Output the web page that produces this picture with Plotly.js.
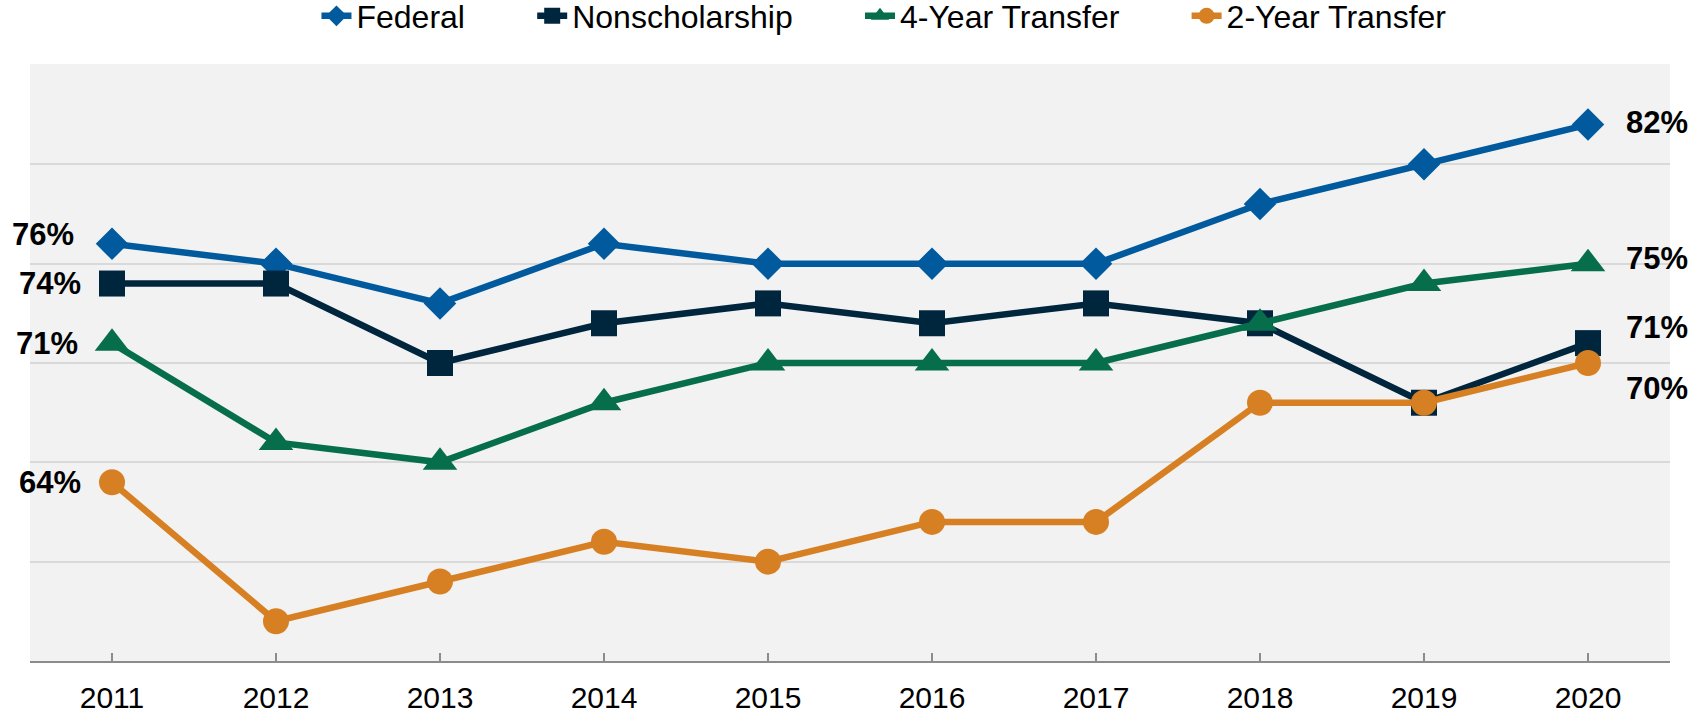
<!DOCTYPE html>
<html>
<head>
<meta charset="utf-8">
<script src="https://cdn.plot.ly/plotly-3.0.1.min.js"></script>
<style>
  html, body { margin: 0; padding: 0; background: #ffffff; }
  #chart { width: 1706px; height: 716px; }
</style>
</head>
<body>
<div id="chart"></div>
<script>
const years = ['2011', '2012', '2013', '2014', '2015', '2016', '2017', '2018', '2019', '2020'];
const seriesNames = ['Federal', 'Nonscholarship', '4-Year Transfer', '2-Year Transfer'];
const federal = [76, 75, 73, 76, 75, 75, 75, 78, 80, 82];
const nonscholarship = [74, 74, 70, 72, 73, 72, 73, 72, 68, 71];
const fourYear = [71, 66, 65, 68, 70, 70, 70, 72, 74, 75];
const twoYear = [64, 57, 59, 61, 60, 62, 62, 68, 68, 70];

const seriesValues = [federal, nonscholarship, fourYear, twoYear];
const colors = ['#015A9E', '#00263E', '#076E4B', '#D77F23'];
const symbols = ['diamond', 'square', 'triangle-up', 'circle'];
const sizes = [25, 26, 30, 26];

const pad = '\u00A0'.repeat(7);
const traces = seriesValues.map((vals, i) => ({
  type: 'scatter',
  mode: 'lines+markers',
  name: seriesNames[i] + pad,
  x: years,
  y: vals,
  line: { color: colors[i], width: 6.5 },
  marker: { color: colors[i], symbol: symbols[i], size: sizes[i] },
  cliponaxis: false,
  hoverinfo: 'x+y+name'
}));

// label offsets (styling only): [xshift, yshift] per series
const leftShift = [[-36, 9], [-29, 0], [-32, 0], [-29, 0]];
const rightShift = [[36, 2], [36, 16], [36, 5], [36, -25]];
const labelFont = { family: 'Liberation Sans, Arial, sans-serif', size: 31, color: '#000000' };

const annotations = [];
seriesValues.forEach((vals, i) => {
  const lastIdx = vals.length - 1;
  annotations.push({
    x: 0, y: vals[0], xref: 'x', yref: 'y',
    text: '<b>' + vals[0] + '%</b>', showarrow: false,
    xanchor: 'right', yanchor: 'middle',
    xshift: leftShift[i][0], yshift: leftShift[i][1],
    font: labelFont
  });
  annotations.push({
    x: lastIdx, y: vals[lastIdx], xref: 'x', yref: 'y',
    text: '<b>' + vals[lastIdx] + '%</b>', showarrow: false,
    xanchor: 'left', yanchor: 'middle',
    xshift: rightShift[i][0], yshift: rightShift[i][1],
    font: labelFont
  });
});

const layout = {
  width: 1706,
  height: 716,
  margin: { l: 30, r: 36, t: 64, b: 55, pad: 0 },
  paper_bgcolor: '#ffffff',
  plot_bgcolor: '#F2F2F2',
  font: { family: 'Liberation Sans, Arial, sans-serif', size: 30, color: '#000000' },
  showlegend: true,
  legend: {
    orientation: 'h',
    xref: 'container', yref: 'container',
    x: 0.1855, xanchor: 'left',
    y: 1 - 16 / 716, yanchor: 'middle',
    font: { size: 32, color: '#000000' },
    bgcolor: 'rgba(0,0,0,0)',
    traceorder: 'normal'
  },
  xaxis: {
    type: 'category',
    range: [-0.5, 9.5],
    showgrid: false,
    zeroline: false,
    showline: true,
    linecolor: '#8C8C8C',
    linewidth: 2,
    ticks: 'inside',
    ticklen: 8,
    tickwidth: 1.5,
    tickcolor: '#8C8C8C',
    tickfont: { size: 30, color: '#000000' },
    ticklabelstandoff: 9,
    fixedrange: true
  },
  yaxis: {
    range: [55, 85.05],
    dtick: 5,
    tick0: 55,
    showgrid: true,
    gridcolor: '#D9D9D9',
    gridwidth: 2,
    zeroline: false,
    showline: false,
    showticklabels: false,
    ticks: '',
    fixedrange: true
  },
  annotations: annotations
};

Plotly.newPlot('chart', traces, layout, { displayModeBar: false, staticPlot: true });
</script>
</body>
</html>
